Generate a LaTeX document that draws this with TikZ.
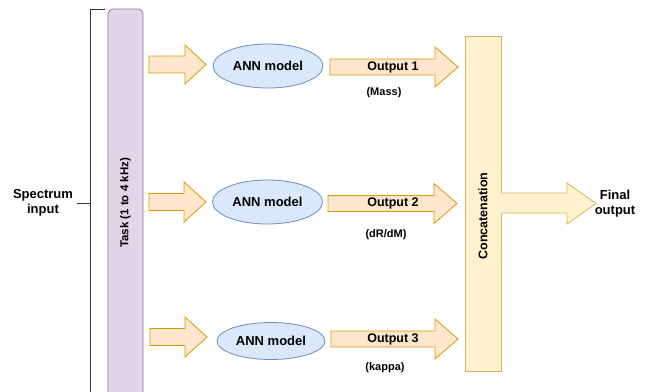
\documentclass[tikz,border=0pt]{standalone}
\usepackage{fontspec}
\setmainfont{Liberation Sans}
\usetikzlibrary{shapes.geometric}

\definecolor{taskfill}{HTML}{E1D5E7}
\definecolor{taskline}{HTML}{9673A6}
\definecolor{annfill}{HTML}{DAE8FC}
\definecolor{annline}{HTML}{6C8EBF}
\definecolor{arrfill}{HTML}{FFE6CC}
\definecolor{arrline}{HTML}{D79B00}
\definecolor{catfill}{HTML}{FFF2CC}
\definecolor{catline}{HTML}{D6B656}

% block arrow: length / head length / half shaft / half head
\tikzset{
    pics/blockarrow/.style args = {#1/#2/#3/#4}{code = {
        \path[pic actions] (0,-#3) -- ({#1-#2},-#3) -- ({#1-#2},-#4) -- (#1,0)
            -- ({#1-#2},#4) -- ({#1-#2},#3) -- (0,#3) -- cycle;
    }}
}

\begin{document}
\begin{tikzpicture} [x = 1pt, y = -1pt,
    every node/.style = {align = center},
    bigtext/.style = {font = \fontsize{13}{15}\selectfont\bfseries},
    subtext/.style = {font = \fontsize{11}{13}\selectfont\bfseries},
    outtext/.style = {font = \fontsize{12.5}{14}\selectfont\bfseries},
    taskbar/.style = {rectangle, rounded corners = 5pt, draw = taskline, fill = taskfill,
        line width = 0.8pt, minimum width = 388pt, minimum height = 35pt,
        font = \fontsize{11.5}{13}\selectfont\bfseries},
    ann/.style = {ellipse, draw = annline, fill = annfill, line width = 0.8pt,
        inner sep = 0pt, minimum width = 110pt, minimum height = 44pt,
        font = \fontsize{13}{15}\selectfont\bfseries},
    catbar/.style = {rectangle, draw = catline, fill = catfill, line width = 0.8pt,
        minimum width = 36pt, minimum height = 335pt},
    inarrow/.style = {draw = arrline, fill = arrfill, line width = 0.8pt},
    bracket/.style = {draw = black!80, line width = 1pt}]
\useasboundingbox (0,0) rectangle (647,391);

\node[taskbar, rotate = 90] (task) at (125.5,203) {Task (1 to 4 kHz)};

\node[bigtext] (spec) at (43,203) {Spectrum\\input};
\coordinate (brtop) at (105,9);
\coordinate (brbot) at (90,396);
\draw[bracket] (brtop) -- (brtop -| brbot) -- (brbot);
\draw[bracket] (spec.east) -- (spec.east -| brbot);

\pic[inarrow] (in1) at (149,64.5) {blockarrow=57/21/8.5/19.5};
\pic[inarrow] (in2) at (149,202) {blockarrow=57/22/8.5/20};
\pic[inarrow] (in3) at (150,337) {blockarrow=57/22/8.5/20};

\node[ann] (ann1) at (268,66) {ANN model};
\node[ann] (ann2) at (267.5,202) {ANN model};
\node[ann, minimum width = 108pt, minimum height = 37pt] (ann3) at (271,341) {ANN model};

\pic[inarrow] (out1) at (330,67) {blockarrow=128/23/8/20};
\pic[inarrow] (out2) at (328,203.5) {blockarrow=129/23/8/20};
\pic[inarrow] (out3) at (331,339) {blockarrow=127/23/8/20};
\node[outtext] (o1) at (393,67) {Output 1};
\node[outtext] (o2) at (393,203.5) {Output 2};
\node[outtext] (o3) at (393,339) {Output 3};
\node[subtext] (s1) at (384,93) {(Mass)};
\node[subtext] (s2) at (386,235) {(dR/dM)};
\node[subtext] (s3) at (385,368) {(kappa)};

\node[catbar] (concat) at (483,203.5) {};
\node[bigtext, font = \fontsize{12.5}{14}\selectfont\bfseries, rotate = 90] (cattext) at (483,216) {Concatenation};

% final arrow grows out of the concatenation bar
\fill[catfill] (500.5,193) -- (567,193) -- (567,183) -- (596,203.5)
    -- (567,224) -- (567,213) -- (500.5,213) -- cycle;
\draw[catline, line width = 0.8pt] (concat.east |- 0,193) -- (567,193) -- (567,183) -- (596,203.5)
    -- (567,224) -- (567,213) -- (concat.east |- 0,213);

\node[bigtext] (final) at (615,204) {Final\\output};
\end{tikzpicture}
\end{document}
